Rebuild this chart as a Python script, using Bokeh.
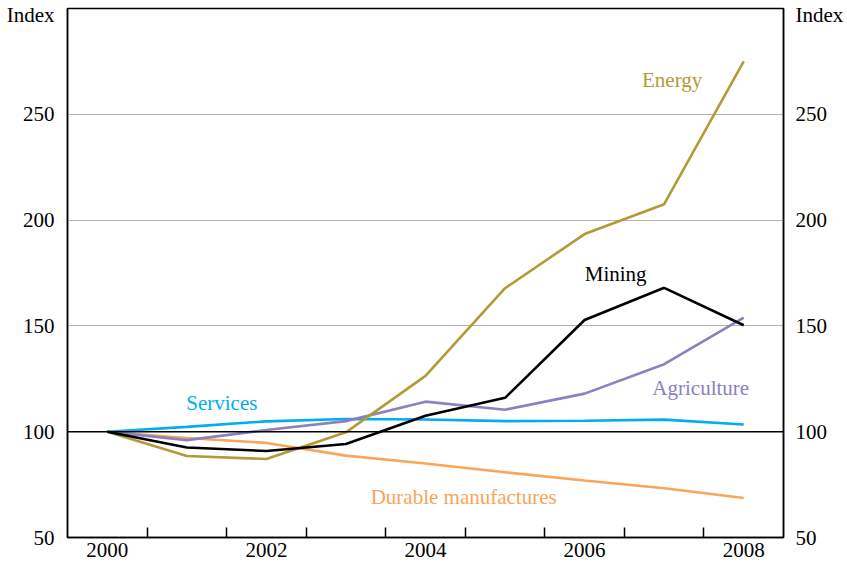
from bokeh.plotting import figure
from bokeh.models import LinearAxis, FixedTicker, Span, Range1d
from bokeh.core.properties import value
from bokeh.embed import file_html
from bokeh.resources import INLINE

years = [2000, 2001, 2002, 2003, 2004, 2005, 2006, 2007, 2008]
energy = [100, 88.5, 87.1, 99.7, 126.4, 167.8, 193.4, 207.5, 275.0]
mining = [100, 92.5, 90.9, 94.2, 107.5, 116.0, 152.8, 168.0, 150.3]
agriculture = [100, 96.0, 100.8, 105.0, 114.2, 110.4, 118.0, 131.9, 153.9]
services = [100, 102.3, 104.9, 106.0, 105.8, 105.0, 105.2, 105.7, 103.4]
durable = [100, 97.0, 94.7, 88.7, 85.0, 80.8, 76.9, 73.3, 68.7]

x_labels = [2000, 2002, 2004, 2006, 2008]
x_minor = [2000.5, 2001.5, 2002.5, 2003.5, 2004.5, 2005.5, 2006.5, 2007.5]
y_ticks = [50, 100, 150, 200, 250]
grid_ticks = [150, 200, 250]
unit_label = "Index"
unit_pos = 297  # where the "Index" unit text sits on each side axis

C_ENERGY = "#b49a36"
C_MINING = "#000000"
C_AGRI = "#8c80c1"
C_SERV = "#00aeef"
C_DUR = "#f9a65a"
FONT = "Liberation Serif"
FS = "21px"

W, H = 847, 566
BL, BR, BT, BB = 67, 64, 8, 29
p = figure(width=W, height=H, output_backend="svg", toolbar_location=None,
           x_range=Range1d(1999.5, 2008.5), y_range=Range1d(50, 300),
           min_border_left=BL, min_border_right=BR, min_border_top=BT,
           min_border_bottom=BB)
p.background_fill_color = "white"
p.border_fill_color = "white"
p.outline_line_color = "black"
p.outline_line_width = 1.5

# x axis
xa = p.xaxis[0]
xa.ticker = FixedTicker(ticks=x_labels, minor_ticks=x_minor)
xa.major_label_overrides = {t: str(t) for t in x_labels}
xa.major_tick_in = 0
xa.major_tick_out = 0
xa.minor_tick_in = 10
xa.minor_tick_out = 0
xa.minor_tick_line_color = "black"
xa.minor_tick_line_width = 1.5
xa.axis_line_color = "black"
xa.axis_line_width = 1.5
xa.major_label_standoff = 5
xa.major_label_text_font = FONT
xa.major_label_text_font_size = FS
xa.major_label_text_color = "black"

# y axes (left and right), with the unit text as a top label
ov = {t: str(t) for t in y_ticks}
ov[unit_pos] = unit_label

ya = p.yaxis[0]
ya.ticker = FixedTicker(ticks=y_ticks + [unit_pos])
ya.major_label_overrides = ov
ya.major_tick_in = 0
ya.major_tick_out = 0
ya.minor_tick_line_color = None
ya.axis_line_color = "black"
ya.axis_line_width = 1.5
ya.major_label_standoff = 13
ya.major_label_text_font = FONT
ya.major_label_text_font_size = FS
ya.major_label_text_color = "black"

ra = LinearAxis(ticker=FixedTicker(ticks=y_ticks + [unit_pos]))
ra.major_label_overrides = ov
ra.major_tick_in = 0
ra.major_tick_out = 0
ra.minor_tick_line_color = None
ra.axis_line_color = "black"
ra.axis_line_width = 1.5
ra.major_label_standoff = 12
ra.major_label_text_font = FONT
ra.major_label_text_font_size = FS
ra.major_label_text_color = "black"
p.add_layout(ra, "right")

p.xgrid.grid_line_color = None
p.ygrid.ticker = FixedTicker(ticks=grid_ticks)
p.ygrid.grid_line_color = "#b3b3b3"
p.ygrid.grid_line_width = 1

p.add_layout(Span(location=100, dimension="width", line_color="black", line_width=1.5))

lw = 2.6
p.line(years, durable, line_color=C_DUR, line_width=lw)
p.line(years, services, line_color=C_SERV, line_width=lw)
p.line(years, agriculture, line_color=C_AGRI, line_width=lw)
p.line(years, energy, line_color=C_ENERGY, line_width=lw)
p.line(years, mining, line_color=C_MINING, line_width=lw)

def lab(x, y, t, c):
    p.text(x=[x], y=[y], text=[t], text_color=c, text_font=value(FONT),
           text_font_size=FS, text_align="center", text_baseline="middle")

lab(2007.1, 266, "Energy", C_ENERGY)
lab(2006.39, 174.5, "Mining", C_MINING)
lab(2001.44, 113.7, "Services", C_SERV)
lab(2007.46, 120.8, "Agriculture", C_AGRI)
lab(2004.48, 69.3, "Durable manufactures", C_DUR)

open("out.html", "w").write(file_html(p, INLINE))
